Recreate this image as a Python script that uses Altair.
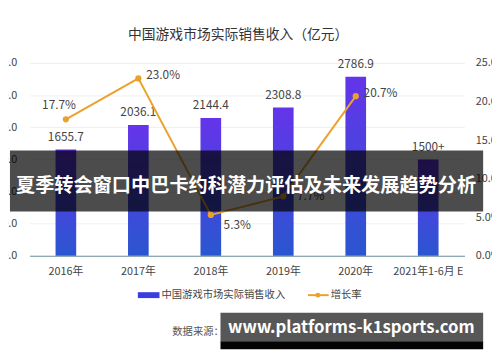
import altair as alt
import pandas as pd

FONT = "Noto Sans CJK SC"

years = ["2016年", "2017年", "2018年", "2019年", "2020年", "2021年1-6月 E"]
revenue = [1655.7, 2036.1, 2144.4, 2308.8, 2786.9, 1500.0]
revenue_labels = ["1655.7", "2036.1", "2144.4", "2308.8", "2786.9", "1500+"]
growth_years = ["2016年", "2017年", "2018年", "2019年", "2020年"]
growth = [17.7, 23.0, 5.3, 7.7, 20.7]

bars_df = pd.DataFrame({"year": years, "rev": revenue, "lab": revenue_labels})
line_df = pd.DataFrame({"year": growth_years, "g": growth,
                        "lab": [f"{v:.1f}%" for v in growth]})

xenc = alt.X("year:N", sort=years, scale=alt.Scale(paddingInner=0, paddingOuter=0),
             axis=alt.Axis(title=None, labelAngle=0, labelFont=FONT, labelFontSize=11,
                           labelColor="#444", ticks=False, domainColor="#6f8f9c",
                           domainWidth=1.2, labelPadding=10))

yleft = alt.Y("rev:Q", scale=alt.Scale(domain=[0, 3000], nice=False),
              axis=alt.Axis(title=None, values=[0, 500, 1000, 1500, 2000, 2500, 3000],
                            format=".1f", labelFont=FONT, labelFontSize=11,
                            labelColor="#444", ticks=False, domain=False,
                            labelOverlap=False, labelFlush=False,
                            gridColor="#efefef", labelPadding=13))

grad = alt.Gradient(gradient="linear",
                    stops=[alt.GradientStop(color="#2a56d0", offset=0),
                           alt.GradientStop(color="#6434ea", offset=1)],
                    x1=0, x2=0, y1=1, y2=0)

bar = alt.Chart().mark_bar(size=21, color=grad)
bar_text = alt.Chart().mark_text(font=FONT, fontSize=12, color="#444",
                                 baseline="bottom", dy=-6).encode(text="lab:N")
bars = alt.layer(bar, bar_text, data=bars_df).encode(x=xenc, y=yleft)

yright = alt.Y("g:Q", scale=alt.Scale(domain=[0, 25], nice=False),
               axis=alt.Axis(title=None, orient="right", values=[0, 5, 10, 15, 20, 25],
                             labelExpr="format(datum.value, '.1f') + '%'",
                             labelFont=FONT, labelFontSize=11, labelColor="#444",
                             labelOverlap=False, labelFlush=False,
                             ticks=False, domain=False, grid=False, labelPadding=11))

line = alt.Chart().mark_line(color="#eba22c", strokeWidth=2)
pts = alt.Chart().mark_circle(color="#eba22c", size=40, opacity=1)


def lab(filter_years, **kw):
    return alt.Chart().transform_filter(
        alt.FieldOneOfPredicate(field="year", oneOf=filter_years)
    ).mark_text(font=FONT, fontSize=12, color="#444", **kw).encode(text="lab:N")


l1 = lab(["2016年"], align="center", dx=-7, dy=-14)
l2 = lab(["2017年", "2020年"], align="left", dx=8, dy=-3)
l3 = lab(["2018年"], align="left", dx=13, dy=10)
l4 = lab(["2019年"], align="left", dx=14, dy=0)
lines = alt.layer(line, pts, l1, l2, l3, l4, data=line_df).encode(
    x=alt.X("year:N", sort=years), y=yright)

main = alt.layer(bars, lines).resolve_scale(y="independent")

# title and manual legend (pixel positions relative to plot area)
one = pd.DataFrame({"k": [0]})
title = alt.Chart(one).mark_text(text="中国游戏市场实际销售收入（亿元）", font=FONT,
                                 fontSize=14, color="#333").encode(
    x=alt.value(212), y=alt.value(-28))
leg_rect = alt.Chart(one).mark_rect(color="#3a3ee0").encode(
    x=alt.value(110), x2=alt.value(132), y=alt.value(233), y2=alt.value(239))
leg_t1 = alt.Chart(one).mark_text(text="中国游戏市场实际销售收入", font=FONT, fontSize=10.5,
                                  color="#444", align="left").encode(
    x=alt.value(134), y=alt.value(236))
leg_line = alt.Chart(one).mark_rule(color="#eba22c", strokeWidth=2).encode(
    x=alt.value(283), x2=alt.value(304), y=alt.value(236))
leg_dot = alt.Chart(one).mark_circle(color="#eba22c", size=25, opacity=1).encode(
    x=alt.value(293), y=alt.value(236))
leg_t2 = alt.Chart(one).mark_text(text="增长率", font=FONT, fontSize=10.5,
                                  color="#444", align="left").encode(
    x=alt.value(306), y=alt.value(236))
source = alt.Chart(one).mark_text(text="数据来源：伽马数据（CNG）", font=FONT, fontSize=10.5,
                                  color="#555", align="left").encode(
    x=alt.value(145), y=alt.value(274))

# overlay banners
band = alt.Chart(one).mark_rect(color="#000000", opacity=0.7).encode(
    x=alt.value(-20), x2=alt.value(461), y=alt.value(89), y2=alt.value(151))
band_text = alt.Chart(one).mark_text(text="夏季转会窗口中巴卡约科潜力评估及未来发展趋势分析",
                                     font=FONT, fontSize=19.5, fontWeight="bold",
                                     color="#ffffff").encode(
    x=alt.value(220), y=alt.value(125))
wm = alt.Chart(one).mark_rect(color="#575757").encode(
    x=alt.value(194), x2=alt.value(461), y=alt.value(254), y2=alt.value(283))
wm2 = alt.Chart(one).mark_rect(color="#050505").encode(
    x=alt.value(194), x2=alt.value(461), y=alt.value(283), y2=alt.value(291))
wm_text = alt.Chart(one).mark_text(text="www.platforms-k1sports.com", font=FONT,
                                   fontSize=17, fontWeight="bold", color="#ffffff").encode(
    x=alt.value(327), y=alt.value(269))

chart = alt.layer(main, title, leg_rect, leg_t1, leg_line, leg_dot, leg_t2, source,
                  band, band_text, wm, wm2, wm_text).properties(
    width=442, height=196,
    autosize=alt.AutoSizeParams(type="none"),
    padding={"left": 22, "top": 53, "right": 28, "bottom": 100},
    background="#ffffff",
).configure_view(stroke=None)

chart.save("out.html", embed_options={"renderer": "svg", "actions": False})
